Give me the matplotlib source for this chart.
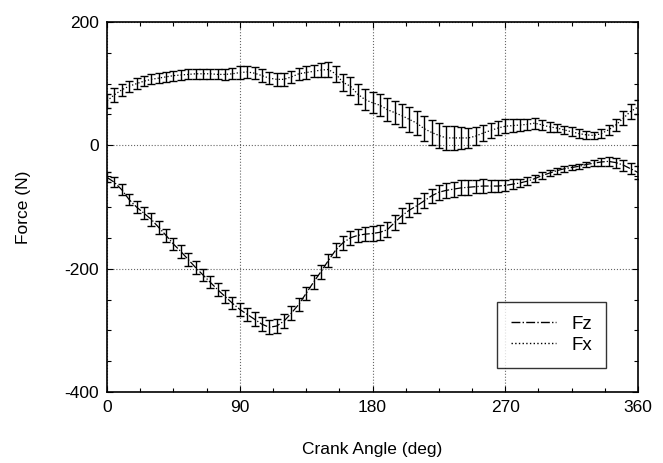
import numpy as np
import matplotlib
matplotlib.use("Agg")
import matplotlib.pyplot as plt
from matplotlib.ticker import MultipleLocator
from matplotlib.lines import Line2D

plt.rcParams['font.family'] = ['Liberation Sans', 'DejaVu Sans']
plt.rcParams['axes.unicode_minus'] = False

# crank angle every 5 deg
angle = np.arange(0, 361, 5)

fz = [-52, -60, -72, -88, -100, -110, -120, -133, -146, -160,
      -172, -185, -198, -210, -222, -234, -245, -256, -266, -274,
      -282, -290, -295, -293, -285, -272, -258, -240, -222, -205,
      -187, -170, -158, -150, -146, -144, -143, -141, -137, -125,
      -114, -105, -98, -90, -82, -76, -73, -71, -69, -68,
      -67, -66, -66, -66, -65, -63, -61, -58, -54, -49,
      -45, -41, -38, -36, -34, -31, -29, -27, -26, -28,
      -32, -38, -44]
fz_sd = [8, 8, 9, 9, 10, 10, 10, 10, 10, 10,
         10, 10, 10, 10, 10, 10, 10, 10, 11, 11,
         11, 11, 11, 11, 11, 11, 11, 11, 11, 11,
         11, 11, 11, 11, 11, 11, 12, 12, 12, 12,
         12, 12, 12, 12, 12, 12, 12, 12, 12, 12,
         11, 11, 10, 10, 9, 8, 7, 6, 6, 5,
         5, 5, 5, 4, 4, 4, 5, 6, 7, 8,
         9, 9, 10]

fx = [72, 82, 90, 96, 100, 104, 107, 109, 111, 113,
      114, 115, 116, 116, 116, 115, 115, 116, 118, 119,
      117, 113, 109, 107, 107, 111, 116, 118, 120, 122,
      123, 116, 102, 96, 83, 74, 69, 65, 58, 53,
      48, 42, 36, 27, 21, 16, 12, 12, 12, 12,
      15, 20, 24, 28, 31, 32, 33, 34, 36, 33,
      30, 28, 25, 22, 19, 17, 16, 19, 25, 33,
      44, 55, 62]
fx_sd = [12, 11, 10, 9, 9, 8, 8, 8, 8, 8,
         8, 8, 8, 8, 8, 8, 9, 9, 10, 10,
         10, 10, 10, 10, 10, 10, 10, 10, 10, 11,
         12, 13, 14, 15, 16, 17, 17, 18, 18, 19,
         19, 20, 20, 20, 20, 20, 20, 19, 18, 16,
         15, 13, 12, 11, 11, 10, 10, 9, 9, 8,
         8, 7, 7, 7, 7, 6, 6, 7, 8, 9,
         11, 12, 12]

fig = plt.figure(figsize=(6.63, 4.63), dpi=100)
ax = fig.add_axes([0.1614, 0.1533, 0.8009, 0.7992])

ax.errorbar(angle, fz, yerr=fz_sd, color='black', lw=0.9, ls='-.',
            elinewidth=1.0, capsize=3, capthick=1.0)
ax.errorbar(angle, fx, yerr=fx_sd, color='black', lw=0.9, ls=':',
            elinewidth=1.0, capsize=3, capthick=1.0)

ax.set_xlim(0, 360)
ax.set_ylim(-400, 200)
ax.set_xticks([0, 90, 180, 270, 360])
ax.set_yticks([-400, -200, 0, 200])
ax.xaxis.set_minor_locator(MultipleLocator(22.5))
ax.yaxis.set_minor_locator(MultipleLocator(50))
ax.tick_params(which='both', direction='in', top=True, right=True,
               labelsize=12.5, width=0.8)
ax.tick_params(which='major', length=4, pad=6)
ax.tick_params(which='minor', length=3)
ax.grid(True, which='major', color='#666666', ls=':', lw=0.8)
for s in ax.spines.values():
    s.set_linewidth(1.2)

ax.set_xlabel('Crank Angle (deg)', fontsize=12.5, labelpad=19)
ax.set_ylabel('Force (N)', fontsize=12.5, labelpad=24)

# legend shows only the line styles, no error bars
handles = [Line2D([], [], color='black', lw=1.0, ls='-.'),
           Line2D([], [], color='black', lw=1.0, ls=':')]
leg = ax.legend(handles, ['Fz', 'Fx'], loc='lower right',
                bbox_to_anchor=(0.94, 0.065),
                fontsize=13.5, frameon=True, fancybox=False,
                edgecolor='black', handlelength=2.4, handletextpad=0.8,
                borderpad=0.75, borderaxespad=0, labelspacing=0.2)
leg.get_frame().set_linewidth(1.0)

fig.savefig('out.png', dpi=100, facecolor='white')
